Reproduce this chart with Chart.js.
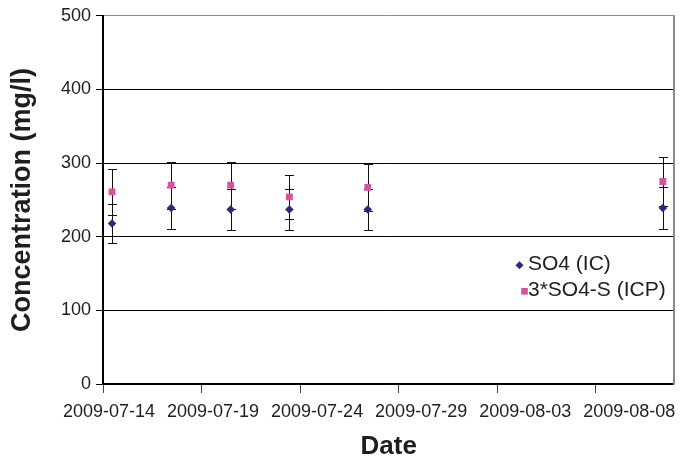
<!DOCTYPE html>
<html>
<head>
<meta charset="utf-8">
<title>SO4 concentration</title>
<script src="https://cdn.jsdelivr.net/npm/chart.js@4.4.0/dist/chart.umd.min.js"></script>
<style>
  html, body { margin: 0; padding: 0; background: #fff; }
  canvas { display: block; }
</style>
</head>
<body>
<canvas id="so4Chart" width="684" height="461"></canvas>
<script>
// Sampling times
const sampleDates = ['2009-07-14T11:00', '2009-07-17T11:00', '2009-07-20T11:30', '2009-07-23T11:00', '2009-07-27T10:30', '2009-08-11T10:00'];

// SO4 by ion chromatography (mg/l) and its uncertainty
const so4IC = [218, 239, 237, 237, 237, 239];
const so4ICErr = [26, 29, 28, 28, 28, 29];

// 3 x sulphur by ICP (mg/l) and its uncertainty
const so4ICP = [261, 270, 270, 254, 267, 275];
const so4ICPErr = [31, 32, 32, 30, 32, 33];

const seriesLabels = ['SO4 (IC)', '3*SO4-S (ICP)'];
const dateTicks = ['2009-07-14', '2009-07-19', '2009-07-24', '2009-07-29', '2009-08-03', '2009-08-08'];
const axisStart = '2009-07-14';
const axisEnd = '2009-08-12';

const FONT = "'Liberation Sans', Arial, sans-serif";
const DAY = 86400000;
const origin = Date.parse(axisStart + 'T00:00:00Z');

// x values are days since the start of the axis
function dayOf(s) {
    const iso = s.length === 10 ? s + 'T00:00:00Z' : s + ':00Z';
    return (Date.parse(iso) - origin) / DAY;
}
function dateLabel(d) {
    return new Date(origin + Math.round(d) * DAY).toISOString().slice(0, 10);
}

const points = (vals) => vals.map((v, i) => ({ x: dayOf(sampleDates[i]), y: v }));

// Vertical error bars with short caps, drawn under the markers
const errorBars = {
    id: 'errorBars',
    beforeDatasetsDraw(chart) {
        const { ctx } = chart;
        const x = chart.scales.x, y = chart.scales.y;
        ctx.save();
        ctx.strokeStyle = '#111';
        ctx.lineWidth = 1;
        chart.data.datasets.forEach((ds, i) => {
            if (!chart.isDatasetVisible(i) || !ds.errors) return;
            ds.data.forEach((p, j) => {
                const e = ds.errors[j];
                const px = Math.round(x.getPixelForValue(p.x)) + 0.5;
                const top = Math.round(y.getPixelForValue(p.y + e)) + 0.5;
                const bot = Math.round(y.getPixelForValue(p.y - e)) + 0.5;
                ctx.beginPath();
                ctx.moveTo(px, top); ctx.lineTo(px, bot);
                ctx.moveTo(px - 4.5, top); ctx.lineTo(px + 4.5, top);
                ctx.moveTo(px - 4.5, bot); ctx.lineTo(px + 4.5, bot);
                ctx.stroke();
            });
        });
        ctx.restore();
    }
};

// Legend box inside the plot, right of centre
const insideLegend = {
    id: 'insideLegend',
    afterDatasetsDraw(chart) {
        const { ctx, chartArea } = chart;
        const tx = chartArea.left + 425;
        const rows = [
            { y: chartArea.top + 248, mx: tx - 8.5 },
            { y: chartArea.top + 274, mx: tx - 3.5 }
        ];
        ctx.save();
        ctx.font = '21px ' + FONT;
        ctx.textBaseline = 'middle';
        ctx.textAlign = 'left';
        chart.data.datasets.forEach((ds, i) => {
            const r = rows[i];
            const my = r.y + 1.5;
            ctx.fillStyle = ds.backgroundColor;
            ctx.beginPath();
            if (ds.pointStyle === 'rectRot') {
                ctx.moveTo(r.mx, my - 4); ctx.lineTo(r.mx + 4, my);
                ctx.lineTo(r.mx, my + 4); ctx.lineTo(r.mx - 4, my);
                ctx.closePath();
            } else {
                ctx.rect(r.mx - 3.3, my - 3.3, 6.6, 6.6);
            }
            ctx.fill();
            ctx.fillStyle = '#1e1e1e';
            ctx.fillText(ds.label, tx, r.y);
        });
        ctx.restore();
    }
};

new Chart(document.getElementById('so4Chart'), {
    type: 'scatter',
    data: {
        datasets: [
            {
                label: seriesLabels[0],
                data: points(so4IC),
                errors: so4ICErr,
                pointStyle: 'rectRot',
                pointRadius: 4.3,
                backgroundColor: '#2c2a7e',
                borderColor: '#2c2a7e',
                borderWidth: 0
            },
            {
                label: seriesLabels[1],
                data: points(so4ICP),
                errors: so4ICPErr,
                pointStyle: 'rect',
                pointRadius: 4.8,
                backgroundColor: '#d8519f',
                borderColor: '#d8519f',
                borderWidth: 0
            }
        ]
    },
    options: {
        responsive: false,
        animation: false,
        layout: { padding: { top: 15, right: 8, bottom: 0, left: 0 } },
        plugins: {
            legend: { display: false },
            tooltip: { enabled: false }
        },
        scales: {
            // tick marks only
            x: {
                type: 'linear',
                position: 'bottom',
                min: dayOf(axisStart),
                max: dayOf(axisEnd),
                afterBuildTicks: s => { s.ticks = dateTicks.map(d => ({ value: dayOf(d) })); },
                afterFit: s => { s.height = 9; },
                ticks: { display: false },
                grid: { drawOnChartArea: false, drawTicks: true, tickLength: 9, color: '#444', tickWidth: 1 },
                border: { display: true, color: '#000', width: 1.5 }
            },
            // date labels, set on a slightly wider pitch than the tick marks
            xLabels: {
                type: 'linear',
                position: 'bottom',
                min: -0.29,
                max: 27.17,
                afterBuildTicks: s => { s.ticks = dateTicks.map(d => ({ value: dayOf(d) })); },
                afterFit: s => { s.height = 68; },
                grid: { display: false, drawTicks: false },
                border: { display: false },
                ticks: {
                    autoSkip: false,
                    maxRotation: 0,
                    padding: 8,
                    color: '#1e1e1e',
                    font: { family: FONT, size: 18 },
                    callback: v => dateLabel(v)
                },
                title: {
                    display: true,
                    text: 'Date',
                    color: '#1e1e1e',
                    font: { family: FONT, size: 26, weight: 'bold', lineHeight: 1 },
                    padding: { top: 12, bottom: 1 }
                }
            },
            y: {
                min: 0,
                max: 500,
                afterFit: s => { s.width = 103; },
                ticks: {
                    stepSize: 100,
                    padding: 5,
                    color: '#1e1e1e',
                    font: { family: FONT, size: 18 }
                },
                grid: {
                    color: c => (c.tick && c.tick.value === 500 ? '#8a8a8a' : '#000'),
                    lineWidth: 1,
                    tickLength: 7,
                    tickColor: '#000'
                },
                border: { display: true, color: '#000', width: 2 },
                title: {
                    display: true,
                    text: 'Concentration (mg/l)',
                    color: '#1e1e1e',
                    font: { family: FONT, size: 27, weight: 'bold' },
                    padding: { top: 6, bottom: 4 }
                }
            },
            // right-hand frame of the plot area
            yFrame: {
                position: 'right',
                min: 0,
                max: 500,
                ticks: { display: false },
                grid: { display: false, drawTicks: false },
                border: { display: true, color: '#8a8a8a', width: 2 }
            }
        }
    },
    plugins: [errorBars, insideLegend]
});
</script>
</body>
</html>
